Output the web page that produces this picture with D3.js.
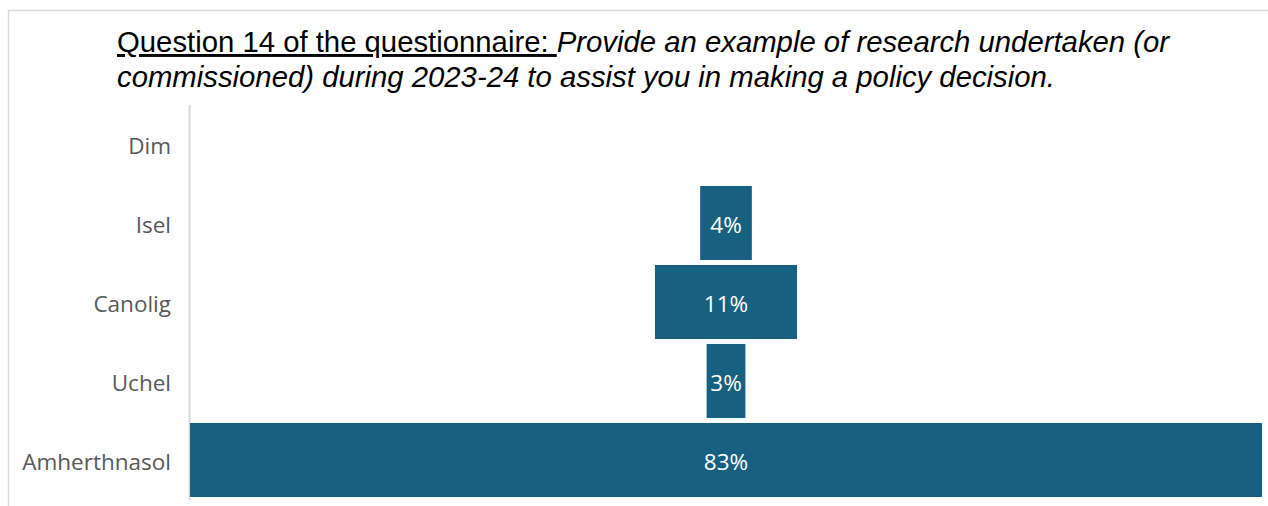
<!DOCTYPE html>
<html>
<head>
<meta charset="utf-8">
<script src="https://cdn.jsdelivr.net/npm/d3@7"></script>
<style>
  html, body { margin: 0; padding: 0; background: #fff; }
  svg { display: block; }
</style>
</head>
<body>
<svg id="chart" width="1268" height="506"></svg>
<script>
// Response categories (top to bottom) and their share of answers (%)
const categories = ["Dim", "Isel", "Canolig", "Uchel", "Amherthnasol"];
const values = [0, 4, 11, 3, 83];
const valueLabels = ["", "4%", "11%", "3%", "83%"];

const titleLead = "Question 14 of the questionnaire: ";
const titleLine1 = "Provide an example of research undertaken (or";
const titleLine2 = "commissioned) during 2023-24 to assist you in making a policy decision.";

const W = 1268, H = 506;
const barColor = "#17607f";
const labelFont = "'Open Sans', 'Noto Sans', sans-serif";

const svg = d3.select("#chart");

// outer frame
svg.append("rect")
  .attr("x", 8.5).attr("y", 10.5)
  .attr("width", W + 10).attr("height", H + 10)
  .attr("fill", "none").attr("stroke", "#d9d9d9").attr("stroke-width", 1.5);

// title
const title = svg.append("text")
  .attr("font-family", "'Liberation Sans', Arial, sans-serif")
  .attr("font-size", 29.3)
  .attr("fill", "#000");
const t1 = title.append("tspan").attr("x", 117).attr("y", 52);
t1.append("tspan").attr("text-decoration", "underline").text(titleLead);
t1.append("tspan").attr("font-style", "italic").text(titleLine1);
title.append("tspan").attr("x", 117).attr("y", 87)
  .attr("font-style", "italic").text(titleLine2);

// funnel layout
const plot = { left: 190, right: 1262, top: 104.5, bottom: 499.5 };
const center = (plot.left + plot.right) / 2;

const y = d3.scaleBand()
  .domain(categories)
  .range([plot.top, plot.bottom])
  .paddingInner(0.063)
  .paddingOuter(0.0315);

const w = d3.scaleLinear()
  .domain([0, d3.max(values)])
  .range([0, plot.right - plot.left]);

// category axis
const axis = d3.axisLeft(y).tickSize(0).tickPadding(18);
const gAxis = svg.append("g")
  .attr("transform", `translate(${plot.left - 1},0)`)
  .call(axis);
gAxis.select(".domain")
  .attr("stroke", "#d9d9d9").attr("stroke-width", 2);
gAxis.selectAll(".tick text")
  .attr("dy", "0.45em")
  .attr("font-family", labelFont)
  .attr("font-size", 22.5)
  .attr("fill", "#595959");

const rows = categories.map((c, i) => ({ cat: c, value: values[i], label: valueLabels[i] }));

svg.append("g").selectAll("rect")
  .data(rows.filter(d => d.value > 0))
  .join("rect")
  .attr("x", d => center - w(d.value) / 2)
  .attr("y", d => y(d.cat))
  .attr("width", d => w(d.value))
  .attr("height", y.bandwidth())
  .attr("fill", barColor);

svg.append("g").selectAll("text")
  .data(rows.filter(d => d.label))
  .join("text")
  .attr("x", center)
  .attr("y", d => y(d.cat) + y.bandwidth() / 2)
  .attr("dy", "0.45em")
  .attr("text-anchor", "middle")
  .attr("font-family", labelFont)
  .attr("font-size", 22.5)
  .attr("fill", "#fff")
  .text(d => d.label);
</script>
</body>
</html>
